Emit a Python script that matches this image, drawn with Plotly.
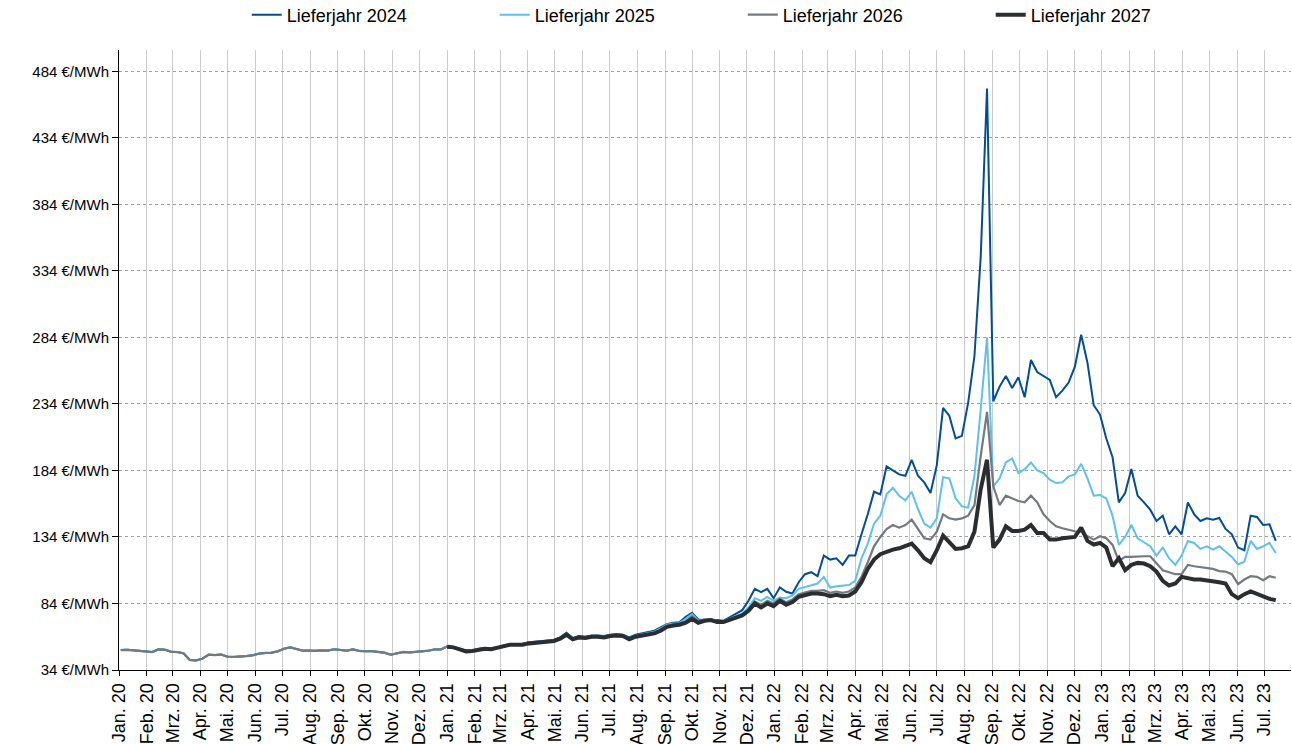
import pandas as pd
import plotly.graph_objects as go

# Weekly settlement dates (Fridays) from 3 Jan 2020 to 14 Jul 2023
dates = pd.date_range("2020-01-03", periods=185, freq="7D")

# 2020: the three older contracts run practically on top of each other
early_2020 = [49, 49.2, 48.8, 48.2, 47.6, 47.5, 49.5, 49.3, 47.8, 47.5, 46.5, 41.5, 41.2,
              42.5, 45.5, 45.2, 45.6, 44, 43.8, 44, 44.5, 45, 46.3, 46.8, 47, 48, 50, 51,
              49.5, 48.5, 48.6, 48.4, 48.8, 48.6, 49.6, 49.2, 48.5, 49.5, 48.3, 48.1, 48.2,
              47.6, 47, 45.5, 46.5, 47.6, 47.2, 47.5, 48, 48.5, 49.5, 49.5]

cal24 = early_2020 + [
    51.8, 51.3, 50, 48.5, 48.8, 50, 50.5, 50.2, 51, 52, 53.5, 53.6, 53.8, 54.8, 55.2, 55.8,
    55.8, 56.6, 58.5, 62, 58, 59.5, 59, 60, 60, 59.5, 60.5, 61, 60.5, 58.5, 60.5, 61.5, 62.5,
    63.5, 66, 68.5, 69.5, 69.8, 74,
    77, 72, 72, 72, 71.5, 71, 73.5, 76, 79, 86, 95, 92.5, 95, 88, 96, 92.8, 91.5, 100, 106,
    107.5, 104.5, 120, 117, 118, 113, 120, 120,
    136, 151, 168, 166, 187, 184, 181, 180, 192, 180, 175, 167, 188, 231, 225, 208, 210, 235,
    270, 345, 471, 236, 247,
    255, 246, 254, 239, 267, 258, 255, 252, 239, 244, 250, 262, 286, 265, 233, 226, 208, 194,
    160, 167,
    185, 165, 160, 154.5, 146, 150, 136, 142, 136, 160, 151, 146, 148, 147, 148.3, 140, 136,
    126, 124, 150, 149, 143, 143.5, 131]

cal25 = early_2020 + [
    51.7, 51.2, 49.8, 48.3, 48.6, 49.8, 50.3, 50, 50.8, 51.8, 53.3, 53.3, 53.5, 54.5, 55, 55.5,
    55.5, 56.3, 58, 61.2, 57.6, 59, 58.6, 59.6, 59.6, 59, 60, 60.6, 60, 57.8, 59.8, 60.8, 61.8,
    62.8, 65.2, 68, 69, 69.2, 72.5,
    76, 71, 71.5, 72, 71, 70.5, 72.5, 74.5, 76.5, 81, 88, 86, 89, 86, 88.5, 88, 90, 95, 96.5,
    97.5, 99, 104, 96, 97, 97.5, 97.8, 101,
    118, 129, 144, 150, 166, 171, 165, 161.5, 168, 155, 144, 141, 148, 179, 178, 163, 157, 156,
    180, 230, 284, 172, 178,
    190, 193, 182, 185, 190, 184, 182, 177, 174.5, 175, 179.5, 181, 189, 178, 165, 165.5, 163,
    150, 128, 134,
    143, 133, 130, 127, 120, 126, 118, 113, 120, 131, 129.5, 125, 127, 124.5, 127, 123, 119,
    113.3, 115.5, 131, 125, 127, 129.5, 122]

cal26 = early_2020 + [
    51.6, 51.1, 49.6, 48.1, 48.4, 49.6, 50.1, 49.8, 50.6, 51.6, 53.1, 53.1, 53.2, 54.2, 54.7,
    55.2, 55.2, 56, 57.7, 60.8, 57.3, 58.7, 58.3, 59.3, 59.3, 58.8, 59.8, 60.3, 59.8, 57.4, 59.4,
    60.2, 61, 62, 64.2, 67.2, 68.2, 68.6, 70.5,
    74.5, 70.5, 71.5, 72, 70.5, 70.5, 72, 73.5, 75.5, 79.5, 85.5, 83, 86, 84, 87.5, 85, 87, 91,
    92.5, 93.5, 93.5, 94, 92, 93, 92, 93, 96,
    104, 115, 127, 134, 140, 143, 141, 143, 147, 140, 133, 132, 138, 151, 148, 147, 148, 150,
    158, 195, 228, 172, 158,
    165, 163, 161, 160, 165, 160, 151, 146, 142, 140.5, 139.5, 138.3, 138, 134.5, 132, 134.5,
    133, 128, 116, 119,
    119, 119.5, 119.5, 119.5, 114, 109, 107.5, 106, 106, 113, 112, 111.5, 110.8, 110, 108.3,
    108, 106, 98.5, 102, 104.5, 104, 101.5, 104.5, 103.3]

# Lieferjahr 2027 is quoted from January 2021 onwards
cal27 = [
    51.5, 51, 49.5, 48, 48.3, 49.5, 50, 49.6, 50.5, 51.5, 53, 53, 53, 54, 54.5, 55, 55, 55.8,
    57.5, 60.5, 57, 58.5, 58, 59, 59, 58.5, 59.5, 60, 59.5, 57, 59, 59.8, 60.5, 61.5, 63.5,
    66.5, 67.5, 68, 69.5,
    72.5, 69.5, 71, 71.5, 70, 70, 71.5, 73, 75, 78.5, 84, 81, 84, 82, 86, 83, 85, 89, 90.5,
    91.5, 91.5, 91, 89.5, 90.5, 89.5, 90, 93,
    100, 110, 117, 121, 123, 124.5, 125.5, 127, 129, 124, 118, 115, 124, 135, 130, 125, 125.5,
    127, 138, 170, 192, 126, 132,
    142, 138.5, 138.5, 139.5, 143, 137, 137, 132, 132, 133, 133.3, 134, 141, 131, 128.3, 129.5,
    126, 112, 118, 109,
    113, 114.5, 114, 112, 108, 101, 97.5, 99, 104, 103, 102, 102, 101.5, 101, 100, 99, 91, 88,
    91, 93, 91, 89, 87.5, 86.5]
dates27 = dates[len(dates) - len(cal27):]

series_names = ["Lieferjahr 2024", "Lieferjahr 2025", "Lieferjahr 2026", "Lieferjahr 2027"]
month_names = ["Jan.", "Feb.", "Mrz.", "Apr.", "Mai.", "Jun.", "Jul.", "Aug.", "Sep.", "Okt.",
               "Nov.", "Dez."]
y_ticks = [34, 84, 134, 184, 234, 284, 334, 384, 434, 484]

tick_dates = pd.date_range("2020-01-01", "2023-07-01", freq="MS")
tick_text = [f"{month_names[d.month - 1]} {d.year % 100:02d}" for d in tick_dates]

colors = ["#034d94", "#5fc0ec", "#737980", "#2b2e31"]
widths = [2, 2, 2.2, 4]

fig = go.Figure()
for name, xs, ys, c, w in zip(series_names, [dates, dates, dates, dates27],
                              [cal24, cal25, cal26, cal27], colors, widths):
    fig.add_trace(go.Scatter(x=xs, y=ys, mode="lines", name=name,
                             line=dict(color=c, width=w)))

fig.update_layout(
    width=1292, height=744,
    margin=dict(l=119, r=1, t=50, b=74, autoexpand=False),
    paper_bgcolor="white", plot_bgcolor="white",
    font=dict(family="Liberation Sans, Arial, sans-serif", size=15, color="#000000"),
    showlegend=True,
    legend=dict(orientation="h", x=0.109, xanchor="left", y=1.0565, yanchor="middle",
                entrywidth=203, entrywidthmode="pixels", font=dict(size=18),
                bgcolor="rgba(0,0,0,0)", borderwidth=0),
)
fig.update_xaxes(
    type="date", range=["2020-01-01", "2023-07-31"],
    tickmode="array", tickvals=tick_dates, ticktext=tick_text, tickangle=-90,
    tickfont=dict(size=18),
    showgrid=True, gridcolor="#cccccc", gridwidth=1,
    showline=True, linecolor="#000000", linewidth=1,
    ticks="outside", ticklen=5, tickcolor="#000000", zeroline=False,
)
fig.update_yaxes(
    range=[34, 500], tickmode="array", tickvals=y_ticks,
    ticktext=[f"{v} €/MWh" for v in y_ticks], tickfont=dict(size=15),
    showgrid=True, gridcolor="#a0a0a0", gridwidth=1, griddash="dot",
    showline=True, linecolor="#000000", linewidth=1,
    ticks="outside", ticklen=6, tickcolor="#000000", zeroline=False,
)

fig.write_html(
    "out.html",
    config={"displayModeBar": False},
    post_script="document.body.style.margin='0';document.body.style.overflow='hidden';",
)
